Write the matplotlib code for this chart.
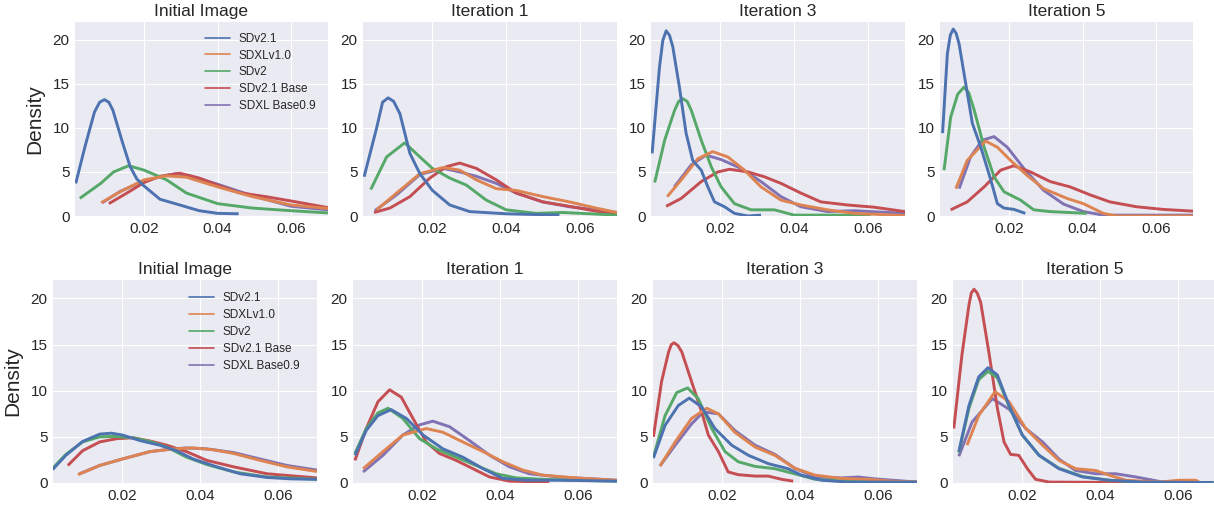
import matplotlib
matplotlib.use("Agg")
import matplotlib.pyplot as plt
from matplotlib.lines import Line2D

MODELS = ["SDv2.1", "SDXLv1.0", "SDv2", "SDv2.1 Base", "SDXL Base0.9"]
TITLES = ["Initial Image", "Iteration 1", "Iteration 3", "Iteration 5"]
Y_TICKS = [0, 5, 10, 15, 20]
X_TICKS = [0.02, 0.04, 0.06]

# curves, (x, density) per model
TOP_INITIAL = {
    "SDv2.1": ([0.0014, 0.004, 0.0065, 0.0079, 0.0092, 0.0104, 0.0115, 0.014, 0.0162, 0.018, 0.020, 0.0243, 0.0297, 0.035, 0.040, 0.0457],
               [3.7, 8.0, 11.8, 12.9, 13.2, 12.9, 12.0, 8.5, 5.6, 4.2, 3.4, 1.9, 1.25, 0.6, 0.3, 0.25]),
    "SDXLv1.0": ([0.0083, 0.0135, 0.020, 0.0261, 0.0315, 0.040, 0.0494, 0.060, 0.070],
                 [1.5, 2.75, 4.1, 4.55, 4.4, 3.3, 2.2, 1.25, 0.85]),
    "SDv2": ([0.0025, 0.0082, 0.0117, 0.0158, 0.020, 0.0261, 0.0315, 0.040, 0.0494, 0.060, 0.070],
             [2.0, 3.7, 5.0, 5.7, 5.2, 4.1, 2.6, 1.4, 0.9, 0.6, 0.35]),
    "SDv2.1 Base": ([0.0104, 0.0153, 0.020, 0.0243, 0.0297, 0.035, 0.040, 0.0458, 0.053, 0.060, 0.070],
                    [1.4, 2.6, 3.8, 4.5, 4.85, 4.3, 3.5, 2.65, 2.2, 1.7, 0.95]),
    "SDXL Base0.9": ([0.0086, 0.0135, 0.020, 0.0261, 0.0288, 0.033, 0.040, 0.0494, 0.060, 0.070],
                     [1.5, 2.8, 4.0, 4.6, 4.8, 4.5, 3.6, 2.3, 1.1, 0.7]),
}

TOP_ITER1 = {
    "SDv2.1": ([0.0015, 0.0049, 0.0065, 0.008, 0.0095, 0.0112, 0.0139, 0.0166, 0.020, 0.0247, 0.0301, 0.040, 0.0544],
               [4.45, 10.0, 12.9, 13.4, 13.0, 11.6, 7.1, 4.8, 2.9, 1.25, 0.5, 0.25, 0.1]),
    "SDXLv1.0": ([0.0049, 0.0103, 0.0166, 0.0229, 0.0274, 0.0319, 0.0373, 0.0427, 0.0499, 0.0571, 0.0643, 0.070],
                 [0.7, 2.6, 4.8, 5.5, 5.2, 4.1, 3.1, 2.9, 2.2, 1.6, 0.9, 0.4]),
    "SDv2": ([0.0033, 0.0076, 0.0125, 0.0166, 0.020, 0.0247, 0.0292, 0.0346, 0.040, 0.0481, 0.0553, 0.070],
             [3.0, 6.7, 8.3, 6.7, 5.4, 4.3, 3.5, 1.8, 0.7, 0.3, 0.4, 0.1]),
    "SDv2.1 Base": ([0.0042, 0.0085, 0.0139, 0.0193, 0.0238, 0.0274, 0.0319, 0.0373, 0.0427, 0.0499, 0.0571, 0.0643, 0.070],
                    [0.4, 0.9, 2.2, 4.3, 5.6, 6.0, 5.4, 4.1, 2.6, 1.6, 1.1, 0.55, 0.3]),
    "SDXL Base0.9": ([0.0044, 0.0103, 0.0166, 0.0229, 0.0274, 0.0319, 0.0373, 0.0427, 0.0499, 0.0571, 0.0643, 0.070],
                     [0.6, 2.4, 4.7, 5.4, 5.0, 4.5, 3.7, 2.6, 1.6, 1.05, 0.7, 0.4]),
}

TOP_ITER3 = {
    "SDv2.1": ([0.0015, 0.0035, 0.0044, 0.0053, 0.0062, 0.0071, 0.0089, 0.0107, 0.0125, 0.0148, 0.0166, 0.0184, 0.0211, 0.0238, 0.0274, 0.031],
               [7.1, 16.9, 19.9, 21.0, 20.5, 19.2, 14.6, 9.4, 6.3, 5.2, 3.3, 1.6, 1.05, 0.3, 0.0, 0.1]),
    "SDXLv1.0": ([0.0056, 0.0094, 0.0139, 0.0179, 0.022, 0.0265, 0.031, 0.0364, 0.0418, 0.049, 0.0562, 0.070],
                 [2.2, 4.1, 6.5, 7.3, 6.7, 5.2, 3.3, 1.8, 1.25, 0.7, 0.3, 0.05]),
    "SDv2": ([0.0022, 0.0049, 0.0076, 0.0087, 0.0098, 0.011, 0.0121, 0.0148, 0.0175, 0.0202, 0.0238, 0.0283, 0.0346, 0.040, 0.0607],
             [3.8, 8.6, 12.0, 13.0, 13.3, 13.0, 12.0, 8.6, 5.6, 3.3, 1.4, 0.7, 0.7, 0.1, 0.1]),
    "SDv2.1 Base": ([0.0053, 0.0094, 0.0148, 0.0193, 0.0225, 0.0274, 0.0319, 0.0364, 0.0418, 0.0472, 0.0544, 0.0616, 0.070],
                    [1.1, 2.0, 3.9, 5.0, 5.3, 5.0, 4.45, 3.7, 2.6, 1.6, 1.25, 1.0, 0.5]),
    "SDXL Base0.9": ([0.0075, 0.0121, 0.0161, 0.0202, 0.0256, 0.031, 0.0364, 0.0418, 0.049, 0.0562, 0.070],
                     [3.3, 5.8, 6.9, 6.4, 5.4, 3.9, 2.2, 1.05, 0.5, 0.6, 0.3]),
}

TOP_ITER5 = {
    "SDv2.1": ([0.0019, 0.0032, 0.004, 0.0048, 0.0056, 0.0064, 0.0082, 0.010, 0.0123, 0.015, 0.0168, 0.0186, 0.0213, 0.0244],
               [9.4, 18.4, 20.5, 21.2, 20.7, 19.5, 15.0, 10.5, 7.8, 4.1, 1.4, 0.9, 0.75, 0.3]),
    "SDXLv1.0": ([0.0055, 0.0086, 0.0136, 0.0168, 0.0204, 0.0249, 0.0294, 0.0357, 0.0402, 0.0456, 0.0492, 0.070],
                 [3.1, 6.3, 8.5, 7.8, 6.3, 4.6, 3.1, 2.0, 1.4, 0.3, 0.0, 0.0]),
    "SDv2": ([0.0023, 0.0041, 0.006, 0.0077, 0.009, 0.0105, 0.0132, 0.0159, 0.0186, 0.0231, 0.0267, 0.0312, 0.0411],
             [5.2, 11.2, 13.8, 14.6, 14.0, 12.0, 7.8, 4.45, 2.75, 1.8, 0.7, 0.5, 0.3]),
    "SDv2.1 Base": ([0.0041, 0.0086, 0.0132, 0.0177, 0.0213, 0.0258, 0.0312, 0.0366, 0.042, 0.0474, 0.0546, 0.0618, 0.070],
                    [0.7, 1.6, 3.3, 5.2, 5.7, 5.0, 3.9, 3.3, 2.4, 1.6, 1.05, 0.75, 0.55]),
    "SDXL Base0.9": ([0.0064, 0.0095, 0.0127, 0.0159, 0.0195, 0.024, 0.0294, 0.0348, 0.0402, 0.0456, 0.0564, 0.070],
                     [3.1, 6.7, 8.6, 9.0, 7.8, 5.4, 2.9, 1.35, 0.5, 0.1, 0.1, 0.1]),
}

BOTTOM_INITIAL = {
    "SDv2.1": ([0.0021, 0.0055, 0.0098, 0.0142, 0.0172, 0.020, 0.0245, 0.0296, 0.0339, 0.0382, 0.0443, 0.0503, 0.0572, 0.0632, 0.070],
               [1.45, 3.0, 4.5, 5.3, 5.4, 5.2, 4.6, 4.1, 3.5, 2.6, 1.75, 1.0, 0.6, 0.45, 0.4]),
    "SDXLv1.0": ([0.0086, 0.0142, 0.020, 0.0271, 0.0331, 0.0382, 0.0434, 0.0486, 0.0554, 0.0623, 0.070],
                 [0.9, 1.9, 2.6, 3.4, 3.7, 3.8, 3.6, 3.2, 2.45, 1.75, 1.25]),
    "SDv2": ([0.0021, 0.0055, 0.0098, 0.0142, 0.0177, 0.0228, 0.0271, 0.0314, 0.0365, 0.0417, 0.0486, 0.0572, 0.070],
             [1.6, 3.1, 4.45, 5.0, 5.05, 4.9, 4.5, 3.9, 2.8, 2.0, 1.2, 0.65, 0.4]),
    "SDv2.1 Base": ([0.006, 0.0098, 0.0142, 0.0185, 0.0228, 0.0271, 0.0314, 0.0365, 0.0417, 0.0486, 0.0572, 0.070],
                    [1.9, 3.5, 4.45, 4.8, 4.9, 4.55, 4.1, 3.4, 2.45, 1.75, 1.0, 0.55]),
    "SDXL Base0.9": ([0.009, 0.0142, 0.020, 0.0271, 0.0331, 0.0365, 0.0417, 0.0486, 0.0554, 0.0623, 0.070],
                     [1.0, 1.9, 2.6, 3.4, 3.7, 3.8, 3.7, 3.3, 2.6, 1.9, 1.4]),
}

BOTTOM_ITER1 = {
    "SDv2.1": ([0.0027, 0.0056, 0.0086, 0.012, 0.0159, 0.0202, 0.0253, 0.0304, 0.0356, 0.0407, 0.0467, 0.0552, 0.070],
               [3.0, 5.7, 7.3, 7.95, 7.0, 5.2, 3.7, 2.8, 1.55, 0.5, 0.3, 0.3, 0.2]),
    "SDXLv1.0": ([0.0048, 0.0099, 0.015, 0.021, 0.0253, 0.0304, 0.0356, 0.0407, 0.0458, 0.0509, 0.0595, 0.070],
                 [1.55, 3.4, 5.2, 5.9, 5.5, 4.45, 3.4, 2.3, 1.4, 0.85, 0.55, 0.3]),
    "SDv2": ([0.0027, 0.0056, 0.0086, 0.0112, 0.015, 0.0193, 0.0236, 0.0287, 0.0338, 0.039, 0.0441, 0.0509, 0.0595, 0.070],
             [3.2, 5.9, 7.6, 8.1, 7.0, 4.8, 3.7, 2.8, 1.9, 1.0, 0.55, 0.4, 0.3, 0.2]),
    "SDv2.1 Base": ([0.0027, 0.0056, 0.0086, 0.0116, 0.0146, 0.0176, 0.021, 0.0244, 0.0287, 0.033, 0.0373, 0.0424, 0.0526],
                    [2.45, 5.9, 8.8, 10.1, 9.3, 7.0, 4.45, 3.2, 2.45, 1.55, 0.65, 0.2, 0.1]),
    "SDXL Base0.9": ([0.0048, 0.0099, 0.015, 0.0193, 0.0227, 0.027, 0.0321, 0.0373, 0.0424, 0.0475, 0.0552, 0.070],
                     [1.2, 3.0, 5.2, 6.3, 6.7, 6.1, 4.6, 3.0, 1.75, 1.0, 0.65, 0.3]),
}

BOTTOM_ITER3 = {
    "SDv2.1": ([0.0023, 0.0053, 0.0087, 0.0115, 0.0147, 0.0181, 0.0224, 0.0267, 0.0318, 0.0369, 0.0403, 0.0455, 0.0523, 0.070],
               [2.7, 6.25, 8.4, 9.2, 8.25, 5.9, 4.1, 3.0, 2.1, 1.55, 0.85, 0.3, 0.1, 0.1]),
    "SDXLv1.0": ([0.004, 0.0079, 0.0121, 0.016, 0.019, 0.0232, 0.0284, 0.0335, 0.0386, 0.0438, 0.0506, 0.0574, 0.0634, 0.070],
                 [1.85, 4.45, 7.0, 8.1, 7.5, 5.5, 3.9, 3.0, 1.6, 0.85, 0.5, 0.4, 0.2, 0.1]),
    "SDv2": ([0.0023, 0.0053, 0.0083, 0.0111, 0.0138, 0.0173, 0.0207, 0.0241, 0.0284, 0.0335, 0.0386, 0.0438, 0.0523, 0.0694],
             [2.8, 7.3, 9.8, 10.3, 9.15, 5.9, 3.4, 2.3, 1.8, 1.55, 1.0, 0.4, 0.2, 0.1]),
    "SDv2.1 Base": ([0.0023, 0.0044, 0.0062, 0.0069, 0.0076, 0.0086, 0.0096, 0.0121, 0.0147, 0.0164, 0.019, 0.0215, 0.0241, 0.0284, 0.0318, 0.0352, 0.0382],
                    [5.0, 11.0, 14.2, 15.0, 15.2, 14.9, 14.2, 11.0, 7.7, 5.2, 3.4, 1.2, 0.9, 0.75, 0.75, 0.4, 0.2]),
    "SDXL Base0.9": ([0.004, 0.0079, 0.0121, 0.0151, 0.019, 0.0232, 0.0284, 0.0335, 0.0386, 0.0438, 0.0506, 0.0549, 0.0591, 0.070],
                     [1.85, 4.1, 6.4, 7.7, 7.5, 5.7, 4.1, 3.1, 1.6, 0.65, 0.55, 0.65, 0.45, 0.1]),
}

BOTTOM_ITER5 = {
    "SDv2.1": ([0.0037, 0.0063, 0.0088, 0.0112, 0.0136, 0.0166, 0.020, 0.0243, 0.0294, 0.0355, 0.0423, 0.0509, 0.0691],
               [3.4, 8.4, 11.5, 12.5, 11.7, 8.4, 5.2, 3.0, 1.55, 0.65, 0.3, 0.1, 0.05]),
    "SDXLv1.0": ([0.0058, 0.0088, 0.013, 0.0166, 0.0209, 0.0252, 0.0294, 0.0337, 0.0389, 0.0423, 0.0466, 0.0552, 0.0603, 0.0646, 0.0655],
                 [4.1, 7.3, 9.9, 8.8, 5.9, 4.1, 2.45, 1.55, 1.35, 0.85, 0.3, 0.1, 0.3, 0.3, 0.05]),
    "SDv2": ([0.0037, 0.0063, 0.0088, 0.0112, 0.0136, 0.0166, 0.020, 0.0243, 0.0294, 0.0355, 0.0423, 0.0509, 0.0691],
             [3.3, 8.1, 11.2, 12.1, 11.4, 8.3, 5.2, 3.0, 1.6, 0.7, 0.3, 0.1, 0.05]),
    "SDv2.1 Base": ([0.0024, 0.0045, 0.0063, 0.0069, 0.0076, 0.0084, 0.0093, 0.0114, 0.0136, 0.0153, 0.017, 0.0191, 0.0213, 0.0234, 0.0269, 0.068],
                    [5.9, 13.9, 19.3, 20.6, 21.0, 20.6, 19.6, 14.2, 8.1, 4.45, 3.1, 3.0, 1.55, 0.4, 0.1, 0.0]),
    "SDXL Base0.9": ([0.0037, 0.0071, 0.0123, 0.0166, 0.0209, 0.0252, 0.0294, 0.0337, 0.0389, 0.044, 0.0492, 0.0561, 0.0691],
                     [2.9, 6.6, 9.15, 8.0, 5.9, 4.45, 2.6, 1.35, 1.0, 1.0, 0.65, 0.1, 0.05]),
}

COLORS = {
    "SDv2.1": "#4C72B0",
    "SDXLv1.0": "#DD8452",
    "SDv2": "#55A868",
    "SDv2.1 Base": "#C44E52",
    "SDXL Base0.9": "#8172B3",
}
DRAW_ORDER = ["SDXL Base0.9", "SDv2.1 Base", "SDv2", "SDXLv1.0", "SDv2.1"]

W, H = 1214, 508
# axes boxes in pixels: (left, top, right, bottom)
TOP_BOXES = [(75, 22, 328, 216), (363, 22, 617, 216), (651, 22, 905, 216), (940, 22, 1193, 216)]
BOTTOM_BOXES = [(53, 280, 317, 483), (353, 280, 617, 483), (653, 280, 917, 483), (953, 280, 1217, 483)]


def _add_axes(fig, box):
    l, t, r, b = box
    return fig.add_axes([l / W, 1 - b / H, (r - l) / W, (b - t) / H])


def draw_row(fig, boxes, panels, xmin, label_x, legend_anchor, spacing):
    for i, (box, data, title) in enumerate(zip(boxes, panels, TITLES)):
        ax = _add_axes(fig, box)
        for name in DRAW_ORDER:
            xs, ys = data[name]
            ax.plot(xs, ys, color=COLORS[name], linewidth=2.1, solid_joinstyle="round",
                    solid_capstyle="butt")
        ax.set_xlim(xmin, 0.07)
        ax.set_ylim(0, 22)
        ax.set_xticks(X_TICKS)
        ax.set_xticklabels([f"{v:.2f}" for v in X_TICKS])
        ax.set_yticks(Y_TICKS)
        ax.tick_params(labelsize=11, pad=4)
        ax.set_title(title, fontsize=12.5, pad=4)
        if i == 0:
            ax.set_ylabel("Density", fontsize=15)
            ax.yaxis.set_label_coords(label_x, 0.5)
            handles = [Line2D([], [], color=COLORS[m], linewidth=1.2) for m in MODELS]
            ax.legend(handles, MODELS, loc="upper left", bbox_to_anchor=legend_anchor,
                      frameon=False, fontsize=8.5, borderpad=0, borderaxespad=0,
                      handlelength=2.1, handletextpad=0.75, labelspacing=spacing)


plt.style.use("seaborn-v0_8-darkgrid")
plt.rcParams["font.family"] = ["Liberation Sans", "DejaVu Sans"]
plt.rcParams["text.color"] = "#262626"
plt.rcParams["xtick.color"] = "#262626"
plt.rcParams["ytick.color"] = "#262626"

fig = plt.figure(figsize=(W / 100, H / 100), dpi=100)
draw_row(fig, TOP_BOXES, [TOP_INITIAL, TOP_ITER1, TOP_ITER3, TOP_ITER5], 0.0012,
         -0.122, (0.515, 0.944), 0.4)
draw_row(fig, BOTTOM_BOXES, [BOTTOM_INITIAL, BOTTOM_ITER1, BOTTOM_ITER3, BOTTOM_ITER5], 0.0022,
         -0.117, (0.515, 0.94), 0.43)
fig.savefig("out.png", dpi=100)
